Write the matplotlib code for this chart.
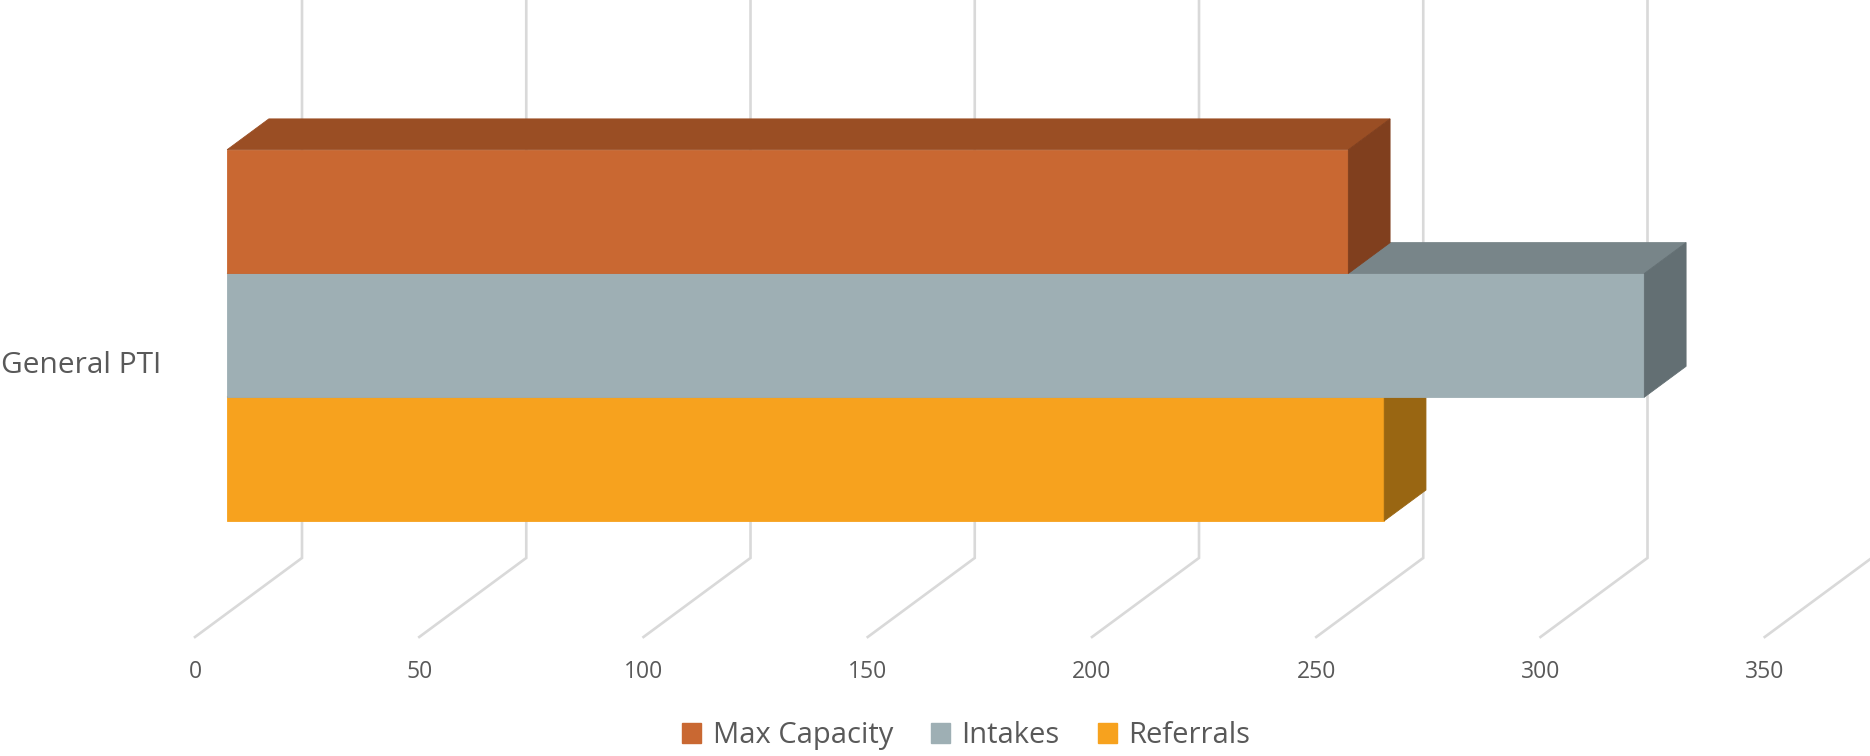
import numpy as np
import matplotlib.pyplot as plt
from matplotlib.patches import Patch

plt.rcParams['font.family'] = ['Open Sans', 'DejaVu Sans']

categories = ['General PTI']
series = ['Max Capacity', 'Intakes', 'Referrals']
values = [250, 316, 258]
ticks = [0, 50, 100, 150, 200, 250, 300, 350]

# front / top / side colours for each series
front_cols = ['#C96832', '#9EAFB4', '#F7A21E']
top_cols = ['#9A4E24', '#788589', '#B77A16']
side_cols = ['#803F1E', '#636F73', '#996612']

# oblique "3d" projection: depth 1 shifts by (dxv, dy) in data units
dxv = 23.86
dy = 0.639
d0, d1 = 0.30, 0.69
floor = -2.247


def proj(v, y, d):
    return v + d * dxv, y + d * dy


fig = plt.figure(figsize=(18.7, 7.56), dpi=100)
ax = fig.add_axes([0, 0, 1, 1])
ax.set_xlim(-43.48, 373.47)
ax.set_ylim(-3.209, 2.902)
ax.axis('off')

# gridlines: along the floor, then up the back wall
for t in ticks:
    x_a, y_a = proj(t, floor, 0)
    x_b, y_b = proj(t, floor, 1)
    ax.plot([x_a, x_b, x_b], [y_a, y_b, 2.902], color='#D9D9D9', lw=1.9,
            solid_joinstyle='miter', zorder=1)
    ax.text(t, -2.53, str(t), ha='center', va='center', fontsize=16.5,
            color='#595959')

# bars, drawn bottom first so the upper ones sit on top
bottoms = [0.5, -0.5, -1.5]
for i in [2, 1, 0]:
    val = values[i]
    y0 = bottoms[i]
    y1 = y0 + 1
    faces = [
        ([(0, y0, d0), (val, y0, d0), (val, y1, d0), (0, y1, d0)], front_cols[i]),
        ([(0, y1, d0), (val, y1, d0), (val, y1, d1), (0, y1, d1)], top_cols[i]),
        ([(val, y0, d0), (val, y0, d1), (val, y1, d1), (val, y1, d0)], side_cols[i]),
    ]
    for pts, col in faces:
        xy = np.array([proj(*p) for p in pts])
        ax.fill(xy[:, 0], xy[:, 1], color=col, lw=0.6, ec=col, zorder=2)

ax.text(-7.4, -0.05, categories[0], ha='right', va='center', fontsize=21.5,
        color='#595959')

handles = [Patch(color=c) for c in front_cols]
fig.legend(handles, series, loc='center', bbox_to_anchor=(0.5166, 0.027),
           ncol=3, frameon=False, fontsize=21, labelcolor='#595959',
           handlelength=0.65, handleheight=0.65, handletextpad=0.4,
           columnspacing=1.3)

plt.savefig('out.png', dpi=100)
